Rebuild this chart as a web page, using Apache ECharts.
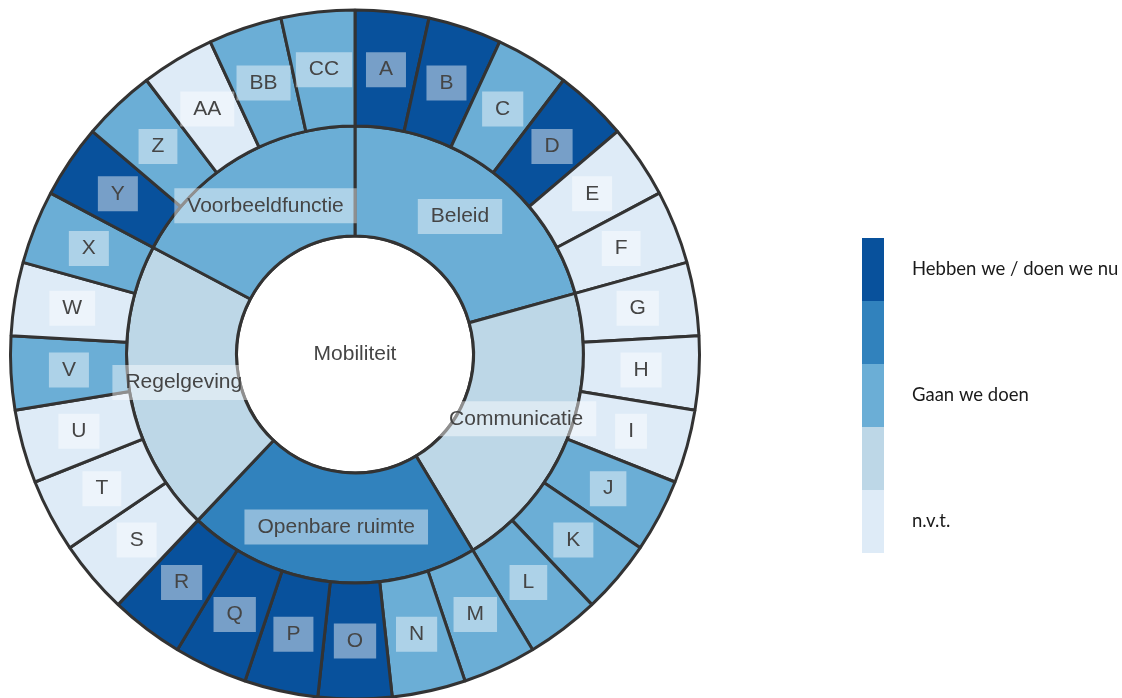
<!DOCTYPE html>
<html>
<head>
<meta charset="utf-8">
<script src="https://cdn.jsdelivr.net/npm/echarts@6/dist/echarts.min.js"></script>
<style>
html,body{margin:0;padding:0;background:#fff;}
#chart{width:1122px;height:698px;}
</style>
</head>
<body>
<div id="chart"></div>
<script>
const rootName = 'Mobiliteit';
const categories = ['Beleid', 'Communicatie', 'Openbare ruimte', 'Regelgeving', 'Voorbeeldfunctie'];
const categoryScores = [3, 2, 4, 2, 3];
const itemNames = [
  ['A', 'B', 'C', 'D', 'E', 'F'],
  ['G', 'H', 'I', 'J', 'K', 'L'],
  ['M', 'N', 'O', 'P', 'Q', 'R'],
  ['S', 'T', 'U', 'V', 'W', 'X'],
  ['Y', 'Z', 'AA', 'BB', 'CC']
];
const itemScores = [
  [5, 5, 3, 5, 1, 1],
  [1, 1, 1, 3, 3, 3],
  [3, 3, 5, 5, 5, 5],
  [1, 1, 1, 3, 1, 3],
  [5, 3, 1, 3, 3]
];
// score 5 (top) .. 1 (bottom)
const legendScores = [5, 4, 3, 2, 1];
const legendLabels = ['Hebben we / doen we nu', '', 'Gaan we doen', '', 'n.v.t.'];
const scoreColors = {1: '#deebf7', 2: '#bdd7e7', 3: '#6baed6', 4: '#3182bd', 5: '#08519c'};

const boxLabel = {
  show: true,
  rotate: 0,
  color: '#454545',
  fontFamily: "'Liberation Sans', Arial, sans-serif",
  fontSize: 21,
  lineHeight: 22,
  offset: [0, 2],
  backgroundColor: 'rgba(255,255,255,0.45)',
  padding: [7, 13, 6, 13]
};

const children = categories.map((cat, i) => ({
  name: cat,
  itemStyle: {color: scoreColors[categoryScores[i]]},
  children: itemNames[i].map((n, j) => ({
    name: n,
    value: 1,
    itemStyle: {color: scoreColors[itemScores[i][j]]}
  }))
}));

const data = [{
  name: rootName,
  itemStyle: {color: '#ffffff'},
  label: {backgroundColor: 'transparent', padding: 0},
  children: children
}];

const cx = 355, cy = 354.5;

const graphics = [];
const lx = 862, ly = 238, lw = 22, lh = 63;
legendScores.forEach((s, k) => {
  graphics.push({
    type: 'rect',
    shape: {x: lx, y: ly + k * lh, width: lw, height: lh},
    style: {fill: scoreColors[s]},
    silent: true
  });
  if (legendLabels[k]) {
    graphics.push({
      type: 'text',
      x: 912,
      y: ly + k * lh + lh / 2,
      style: {
        text: legendLabels[k],
        fill: '#1a1a1a',
        font: '18.5px Lato, "Open Sans", sans-serif',
        verticalAlign: 'middle',
        align: 'left'
      },
      silent: true
    });
  }
});

const chart = echarts.init(document.getElementById('chart'), null, {renderer: 'canvas'});
chart.setOption({
  animation: false,
  backgroundColor: '#ffffff',
  series: [{
    type: 'sunburst',
    center: [cx, cy],
    sort: null,
    startAngle: 90,
    clockwise: true,
    nodeClick: false,
    data: data,
    emphasis: {disabled: true},
    itemStyle: {borderColor: '#333', borderWidth: 3},
    label: boxLabel,
    levels: [
      {},
      {r0: 0, r: 118.5, label: {backgroundColor: 'transparent', padding: 0}},
      {r0: 118.5, r: 228.5},
      {r0: 228.5, r: 344.5}
    ]
  }],
  graphic: graphics
});
</script>
</body>
</html>
